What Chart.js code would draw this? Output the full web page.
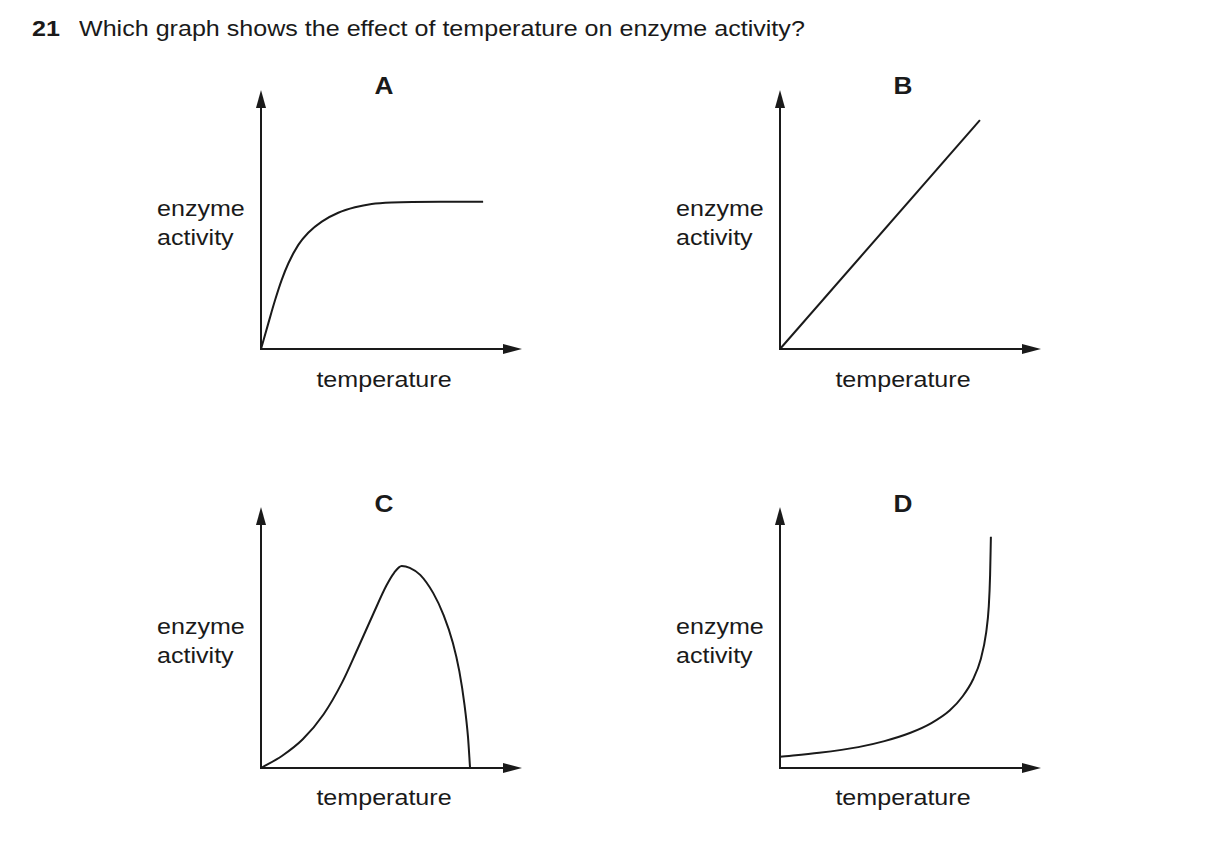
<!DOCTYPE html>
<html>
<head>
<meta charset="utf-8">
<script src="https://cdn.jsdelivr.net/npm/chart.js@4/dist/chart.umd.min.js"></script>
<style>
  body { margin: 0; background: #fff; width: 1209px; height: 867px; position: relative; overflow: hidden; }
  .t { position: absolute; font-family: Arial, "Liberation Sans", sans-serif; color: #1a1a1a; line-height: 1;
       white-space: nowrap; transform: scaleX(1.14); transform-origin: left top; }
  .c { transform-origin: center top; text-align: center; }
  canvas { position: absolute; }
</style>
</head>
<body>
<div class="t" style="left:32px;top:18px;font-size:22px;font-weight:bold">21</div>
<div class="t" style="left:79px;top:18px;font-size:22px">Which graph shows the effect of temperature on enzyme activity?</div>
<div id="labels"></div>
<canvas id="cA"></canvas>
<canvas id="cB"></canvas>
<canvas id="cC"></canvas>
<canvas id="cD"></canvas>
<script>
// temperature / activity in axis units (0..100 = full arrow length)
const tempA = [0, 2.8, 5.4, 7.9, 10.5, 14.3, 18.1, 23.3, 29.6, 36.0, 42.4, 50.1, 68.6, 85.1];
const actA  = [0, 9.9, 18.9, 26.6, 33.1, 40.2, 44.9, 49.2, 52.6, 54.7, 56.0, 56.6, 56.9, 56.9];

const tempB = [0, 76.6];
const actB  = [0, 88.4];

const tempC = [0, 8, 16, 24, 31, 37, 43, 48, 51, 53.9, 57, 61, 66, 70, 73.5, 76, 78, 79.3, 80.1];
const actC  = [0, 4.6, 11.0, 20.6, 32.6, 45.6, 59, 69.8, 74.8, 77.4, 76.7, 74, 67, 58.5, 48, 37, 24, 12, 0];

const tempD = [0, 15, 30, 40, 50, 58, 65, 70, 74, 77, 79, 80, 80.5, 80.8];
const actD  = [4.3, 5.8, 8.0, 10.3, 13.5, 17.2, 22.0, 27.5, 34.0, 42.0, 52.0, 62.0, 74.0, 88.6];

const panelNames = ['A', 'B', 'C', 'D'];
const xLabel = 'temperature';
const yLabel = ['enzyme', 'activity'];

const ink = '#1a1a1a';
const pad = 20;

const arrowAxes = {
  id: 'arrowAxes',
  afterDraw(chart) {
    const ctx = chart.ctx;
    const x = chart.scales.x, y = chart.scales.y;
    const ox = x.getPixelForValue(0), oy = y.getPixelForValue(0);
    const tx = x.getPixelForValue(100), ty = y.getPixelForValue(100);
    ctx.save();
    ctx.strokeStyle = ink;
    ctx.fillStyle = ink;
    ctx.lineWidth = 2;
    ctx.beginPath();
    ctx.moveTo(ox, ty + 10);
    ctx.lineTo(ox, oy);
    ctx.lineTo(tx - 10, oy);
    ctx.stroke();
    // arrow heads
    ctx.beginPath();
    ctx.moveTo(ox, ty);
    ctx.lineTo(ox - 5, ty + 18);
    ctx.lineTo(ox + 5, ty + 18);
    ctx.closePath();
    ctx.fill();
    ctx.beginPath();
    ctx.moveTo(tx, oy);
    ctx.lineTo(tx - 19, oy - 5);
    ctx.lineTo(tx - 19, oy + 5);
    ctx.closePath();
    ctx.fill();
    ctx.restore();
  }
};

function panel(id, temps, acts, originX, originY, tipY, smooth) {
  const w = 261, h = originY - tipY;
  const cv = document.getElementById(id);
  cv.style.left = (originX - pad) + 'px';
  cv.style.top = (tipY - pad) + 'px';
  cv.style.width = (w + 2 * pad) + 'px';
  cv.style.height = (h + 2 * pad) + 'px';
  cv.width = w + 2 * pad;
  cv.height = h + 2 * pad;
  new Chart(cv, {
    type: 'line',
    data: {
      datasets: [{
        data: temps.map((t, i) => ({ x: t, y: acts[i] })),
        borderColor: ink,
        borderWidth: 2,
        pointRadius: 0,
        cubicInterpolationMode: smooth ? 'monotone' : 'default',
        tension: 0,
        clip: false
      }]
    },
    options: {
      responsive: false,
      animation: false,
      layout: { padding: pad },
      plugins: { legend: { display: false }, tooltip: { enabled: false } },
      scales: {
        x: { type: 'linear', min: 0, max: 100, display: false },
        y: { type: 'linear', min: 0, max: 100, display: false }
      }
    },
    plugins: [arrowAxes]
  });
}

panel('cA', tempA, actA, 261, 349, 90, true);
panel('cB', tempB, actB, 780, 349, 90, false);
panel('cC', tempC, actC, 261, 768, 507, true);
panel('cD', tempD, actD, 780, 768, 507, true);

// text around each panel
const spots = [[261, 0], [780, 0], [261, 418], [780, 418]];
const lab = document.getElementById('labels');
spots.forEach(([ox, dy], i) => {
  const mk = (txt, cls, css) => {
    const d = document.createElement('div');
    d.className = cls;
    d.style.cssText = css;
    d.textContent = txt;
    lab.appendChild(d);
  };
  mk(panelNames[i], 't c', `left:${ox + 123 - 50}px;width:100px;top:${75 + dy}px;font-size:23px;font-weight:bold`);
  mk(yLabel[0], 't', `left:${ox - 104}px;top:${198 + dy}px;font-size:22px`);
  mk(yLabel[1], 't', `left:${ox - 104}px;top:${227 + dy}px;font-size:22px`);
  mk(xLabel, 't c', `left:${ox + 123 - 100}px;width:200px;top:${369 + dy}px;font-size:22px`);
});
</script>
</body>
</html>
